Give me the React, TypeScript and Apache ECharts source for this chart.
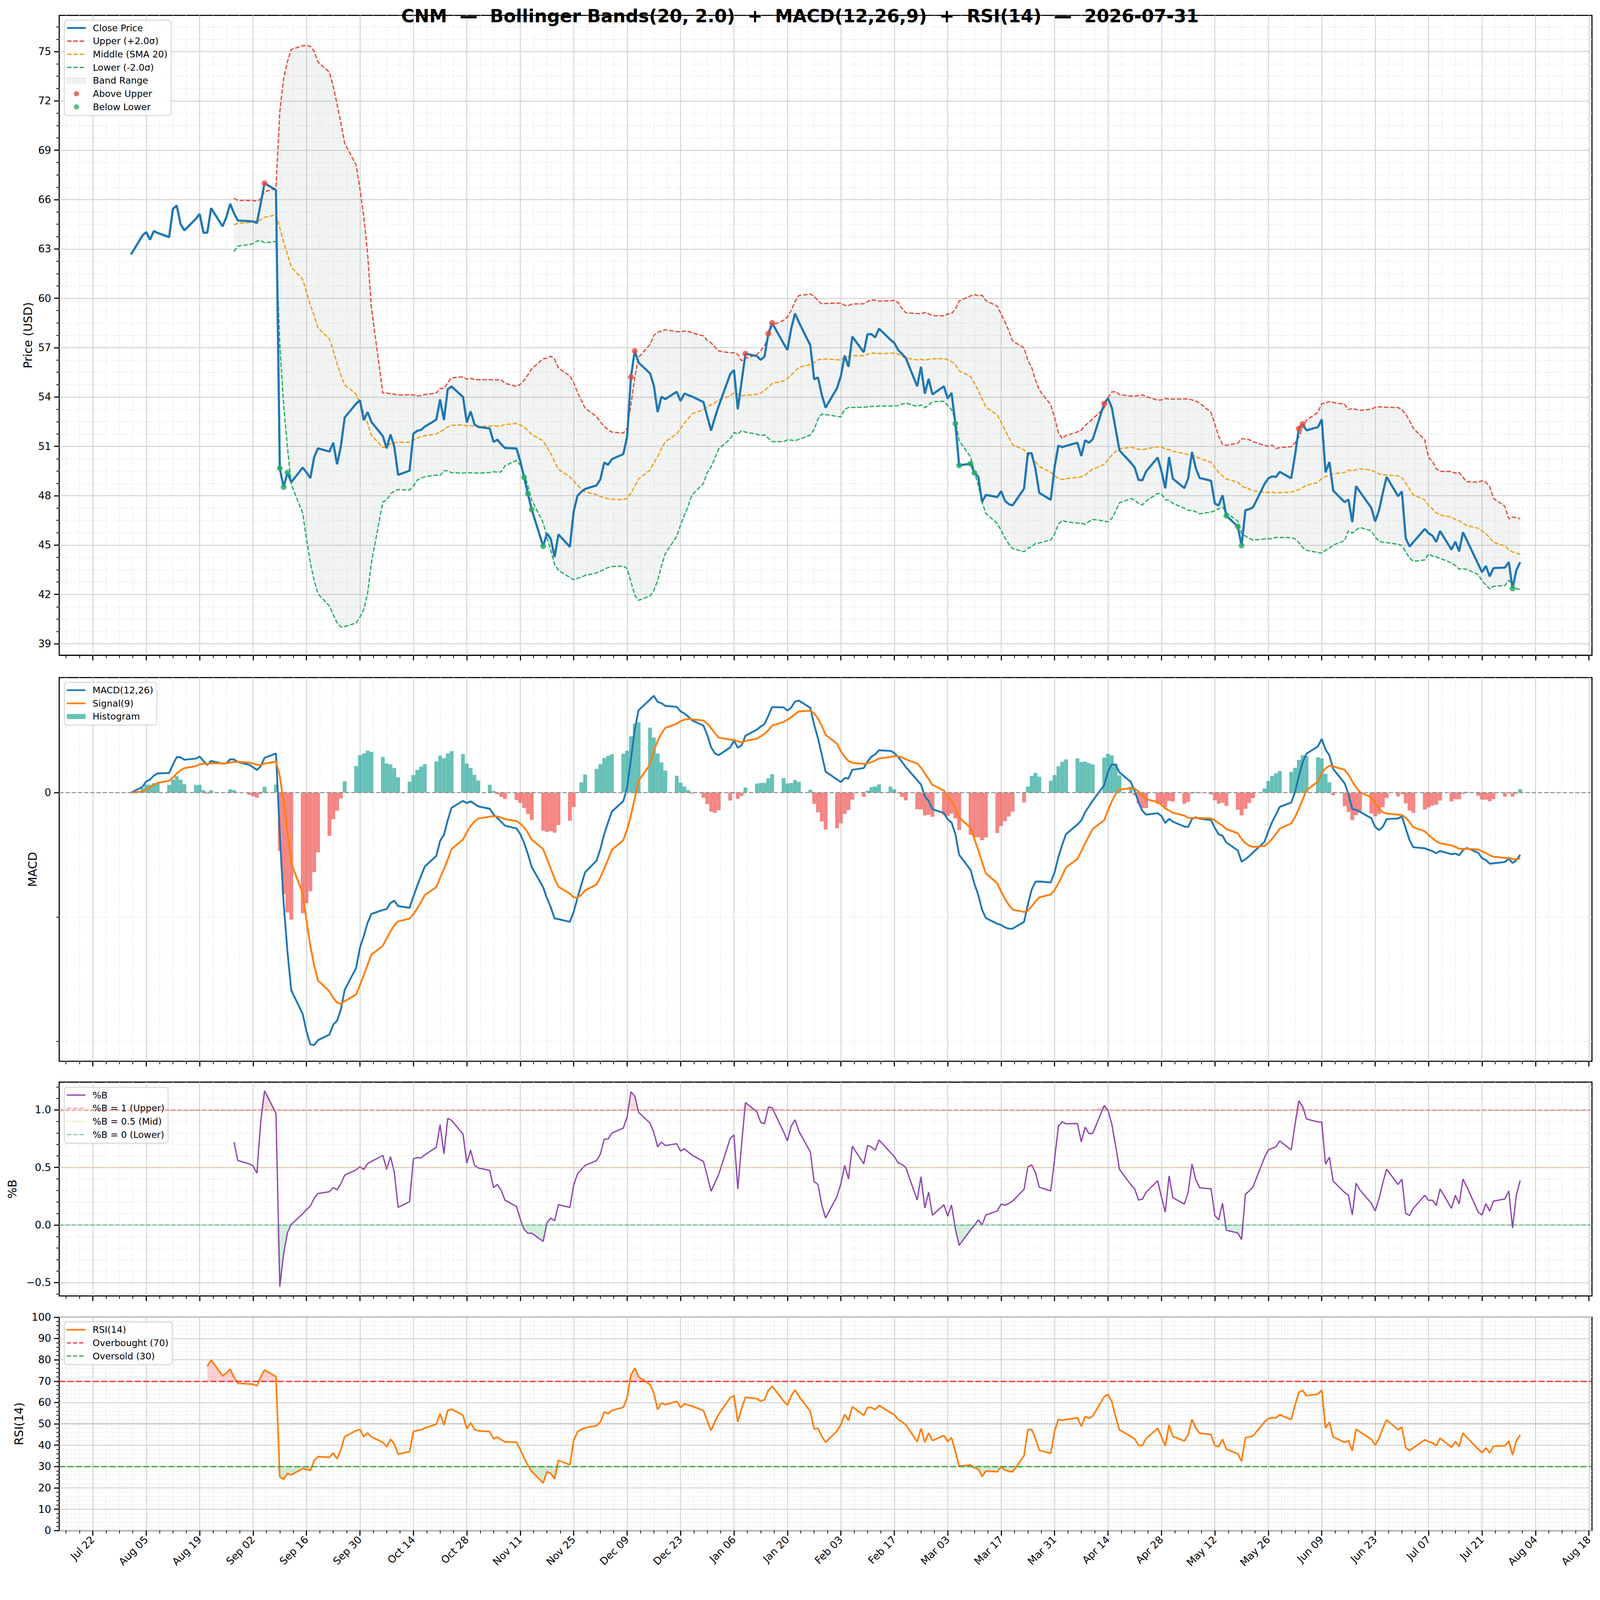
import React, { useEffect, useRef } from 'react'
import * as echarts from 'echarts'

// Daily closes (USD), one per business day, 2025-08-01 .. 2026-07-31
const CLOSE_2025_08 = [62.66, 63.81, 64.03, 63.56, 64.09, 63.97, 63.72, 65.44, 65.64, 64.51, 64.13, 64.83, 65.13, 63.99, 63.99, 65.48, 64.37, 64.93, 65.74, 65.17, 64.73]
const CLOSE_2025_09 = [64.69, 64.67, 64.57, 65.78, 66.99, 66.58, 49.67, 48.52, 49.41, 48.82, 49.71, 49.41, 49.07, 50.34, 50.88, 50.68, 51.22, 49.91, 51.0, 52.75, 53.6, 53.8]
const CLOSE_2025_10 = [52.59, 53.09, 52.49, 51.62, 50.88, 51.72, 50.98, 49.26, 49.52, 51.77, 51.94, 52.0, 52.2, 52.62, 53.85, 52.6, 54.47, 54.64, 54.0, 52.45, 53.13, 52.34, 52.18]
const CLOSE_2025_11 = [52.09, 51.27, 51.41, 51.13, 50.9, 50.87, 50.11, 49.11, 48.12, 47.16, 44.93, 45.71, 45.37, 44.27, 45.65, 44.89, 47.05, 47.99, 48.24, 48.41]
const CLOSE_2025_12 = [48.63, 49.0, 50.02, 49.88, 50.22, 50.53, 51.58, 55.21, 56.8, 56.09, 55.44, 54.7, 53.08, 54.02, 53.87, 54.32, 53.76, 54.21, 54.12, 54.03, 53.69, 52.82, 51.96]
const CLOSE_2026_01 = [52.75, 53.46, 55.38, 55.64, 53.26, 54.93, 56.63, 56.49, 56.26, 56.46, 57.85, 58.5, 57.25, 56.86, 58.16, 59.08, 58.55, 57.14, 55.08, 55.19, 54.14, 53.35]
const CLOSE_2026_02 = [54.54, 55.27, 56.52, 55.84, 57.67, 56.72, 57.82, 57.82, 57.62, 58.16, 57.48, 57.29, 56.86, 56.63, 56.38, 54.65, 55.84, 54.2, 55.1, 54.16]
const CLOSE_2026_03 = [54.65, 53.91, 54.25, 52.39, 49.84, 49.95, 49.39, 49.16, 47.63, 48.05, 47.92, 48.28, 47.69, 47.49, 47.41, 48.43, 50.58, 50.58, 49.61, 48.17, 47.75, 49.73]
const CLOSE_2026_04 = [51.05, 50.95, 51.03, 51.22, 50.41, 51.37, 51.22, 51.43, 53.6, 53.92, 53.35, 52.05, 50.75, 50.0, 49.71, 48.96, 48.94, 49.48, 50.32, 49.5, 48.45, 50.35]
const CLOSE_2026_05 = [49.03, 48.46, 49.05, 50.66, 49.67, 49.08, 48.91, 47.52, 47.41, 48.03, 46.78, 46.13, 44.97, 47.12, 47.18, 47.29, 48.71, 49.05, 49.17, 49.14, 49.45]
const CLOSE_2026_06 = [49.06, 50.47, 52.08, 52.36, 51.97, 52.17, 52.64, 49.42, 50.05, 48.31, 47.61, 47.77, 46.39, 48.58, 48.24, 47.26, 46.44, 47.1, 48.17, 49.14, 47.97, 48.26]
const CLOSE_2026_07 = [45.42, 44.91, 45.18, 45.98, 45.72, 45.57, 45.19, 45.85, 44.72, 45.21, 44.62, 45.78, 45.3, 43.84, 43.35, 43.73, 43.09, 43.6, 43.63, 43.97, 42.36, 43.48, 43.96]

// x tick labels, every 14 days starting Jul 22 2025
const X_TICK_LABELS = ['Jul 22', 'Aug 05', 'Aug 19', 'Sep 02', 'Sep 16', 'Sep 30', 'Oct 14', 'Oct 28', 'Nov 11', 'Nov 25', 'Dec 09', 'Dec 23', 'Jan 06', 'Jan 20', 'Feb 03', 'Feb 17', 'Mar 03', 'Mar 17', 'Mar 31', 'Apr 14', 'Apr 28', 'May 12', 'May 26', 'Jun 09', 'Jun 23', 'Jul 07', 'Jul 21', 'Aug 04', 'Aug 18']
const PRICE_TICKS = [39, 42, 45, 48, 51, 54, 57, 60, 63, 66, 69, 72, 75]
const MACD_TICKS = [0]
const MACD_MINOR_TICKS = [-4, -2]
const PB_TICKS = [-0.5, 0, 0.5, 1]
const RSI_TICKS = [0, 10, 20, 30, 40, 50, 60, 70, 80, 90, 100]

const TITLE = 'CNM  \u2014  Bollinger Bands(20, 2.0)  +  MACD(12,26,9)  +  RSI(14)  \u2014  2026-07-31'
const FONT = 'DejaVu Sans'
const W = 4378
const H = 4322
const DAY_MS = 86400000
const FIRST_DAY = Date.UTC(2025, 7, 1)
const X_FIRST_TICK = -10 // Jul 22 2025, in days from Aug 1 2025
const X_MIN = -18.8
const X_MAX = 382.8

const CLOSES = [
  CLOSE_2025_08, CLOSE_2025_09, CLOSE_2025_10, CLOSE_2025_11, CLOSE_2025_12, CLOSE_2026_01,
  CLOSE_2026_02, CLOSE_2026_03, CLOSE_2026_04, CLOSE_2026_05, CLOSE_2026_06, CLOSE_2026_07,
].flat()

// calendar-day offset of every business day, starting at Aug 1 2025
function businessDays(count: number): number[] {
  const out: number[] = []
  for (let off = 0; out.length < count; off++) {
    const wd = new Date(FIRST_DAY + off * DAY_MS).getUTCDay()
    if (wd !== 0 && wd !== 6) out.push(off)
  }
  return out
}

function ema(values: number[], span: number): number[] {
  const a = 2 / (span + 1)
  const out: number[] = []
  values.forEach((v, i) => out.push(i === 0 ? v : a * v + (1 - a) * out[i - 1]))
  return out
}

function bollinger(values: number[], n: number, k: number) {
  const mid: (number | null)[] = []
  const up: (number | null)[] = []
  const lo: (number | null)[] = []
  values.forEach((_, i) => {
    if (i < n - 1) {
      mid.push(null); up.push(null); lo.push(null)
      return
    }
    const win = values.slice(i - n + 1, i + 1)
    const m = win.reduce((s, v) => s + v, 0) / n
    const sd = Math.sqrt(win.reduce((s, v) => s + (v - m) ** 2, 0) / (n - 1))
    mid.push(m); up.push(m + k * sd); lo.push(m - k * sd)
  })
  return { mid, up, lo }
}

// Wilder-style smoothing (ewm alpha = 1/n)
function rsi(values: number[], n: number): (number | null)[] {
  const a = 1 / n
  let g = 0
  let l = 0
  const out: (number | null)[] = [null]
  for (let i = 1; i < values.length; i++) {
    const d = values[i] - values[i - 1]
    const gain = Math.max(d, 0)
    const loss = Math.max(-d, 0)
    if (i === 1) { g = gain; l = loss } else { g = a * gain + (1 - a) * g; l = a * loss + (1 - a) * l }
    out.push(i >= n ? (l === 0 ? 100 : 100 - 100 / (1 + g / l)) : null)
  }
  return out
}

function steps(from: number, to: number, step: number): number[] {
  const out: number[] = []
  for (let v = from; v <= to + 1e-9; v += step) out.push(Math.round(v * 1000) / 1000)
  return out
}
const without = (all: number[], major: number[]) => all.filter((v) => !major.some((m) => Math.abs(m - v) < 1e-6))

// legend icon: a horizontal (optionally dashed) bar inside a 51x14 box
function lineIcon(t: number, dash?: number[]): string {
  const iw = 51
  const ih = 14
  const y0 = (ih - t) / 2
  const y1 = (ih + t) / 2
  const parts = ['M0,0h0.01v0.01h-0.01Z', `M${iw - 0.01},${ih - 0.01}h0.01v0.01h-0.01Z`]
  if (!dash) parts.push(`M0,${y0}H${iw}V${y1}H0Z`)
  else {
    for (let x = 0; x < iw; x += dash[0] + dash[1]) {
      const e = Math.min(x + dash[0], iw)
      parts.push(`M${x},${y0}H${e}V${y1}H${x}Z`)
    }
  }
  return 'path://' + parts.join('')
}

const X = businessDays(CLOSES.length)
const X_MAJOR = X_TICK_LABELS.map((_, i) => X_FIRST_TICK + i * 14)
const X_MINOR = without(steps(X_FIRST_TICK - 7, X_MAX, 3.5), X_MAJOR)

const pts = (ys: (number | null)[]) => ys.map((y, i) => [X[i], y == null ? '-' : y])

const COLORS = {
  close: '#1f77b4', upper: '#e74c3c', middle: '#f39c12', lower: '#27ae60',
  band: 'rgba(149,165,166,0.12)', macd: '#1f77b4', signal: '#ff7f0e',
  histUp: 'rgba(38,166,154,0.7)', histDown: 'rgba(239,83,80,0.7)', pb: '#8e44ad', rsi: '#ff7f0e',
  pbUpper: 'rgba(231,76,60,0.7)', pbMid: 'rgba(243,156,18,0.6)', pbLower: 'rgba(39,174,96,0.7)',
  over: 'rgba(255,0,0,0.75)', under: 'rgba(44,160,44,0.85)',
}

function buildOption(S: number) {
  const p = (v: number) => v * S
  const dash = (a: number[]) => a.map(p)

  const bb = bollinger(CLOSES, 20, 2)
  const e26 = ema(CLOSES, 26)
  const macd = ema(CLOSES, 12).map((v, i) => v - e26[i])
  const signal = ema(macd, 9)
  const hist = macd.map((v, i) => v - signal[i])
  const rsiV = rsi(CLOSES, 14)
  const pb = CLOSES.map((c, i) => (bb.up[i] == null ? null : (c - (bb.lo[i] as number)) / ((bb.up[i] as number) - (bb.lo[i] as number))))

  const above = CLOSES.map((c, i) => [X[i], c, bb.up[i] != null && c > (bb.up[i] as number)]).filter((q) => q[2]).map((q) => [q[0], q[1]])
  const below = CLOSES.map((c, i) => [X[i], c, bb.lo[i] != null && c < (bb.lo[i] as number)]).filter((q) => q[2]).map((q) => [q[0], q[1]])

  const majorSplit = { show: true, lineStyle: { color: '#d2d2d2', width: p(2.5) } }
  const minorSplit = { show: true, lineStyle: { color: '#e2e2e2', width: p(2), type: dash([3, 5]) } }
  const tickStyle = (w: number) => ({ color: '#000', width: p(w) })
  const labelStyle = { fontSize: p(28), color: '#000', fontFamily: FONT }
  const noLine = { show: false, onZero: false }

  const xAxis: any[] = []
  const yAxis: any[] = []
  const yCfg = [
    { min: 38.3, max: 77.2, major: PRICE_TICKS, minor: without(steps(39, 77.2, 0.75), PRICE_TICKS), name: 'Price (USD)', gap: 70, majorLines: true, fmt: (v: number) => String(v) },
    { min: -4.32, max: 1.85, major: MACD_TICKS, minor: MACD_MINOR_TICKS, name: 'MACD', gap: 57, majorLines: false, fmt: (v: number) => String(v) },
    { min: -0.616, max: 1.241, major: PB_TICKS, minor: without(steps(-0.6, 1.2, 0.1), PB_TICKS), name: '%B', gap: 112, majorLines: true, fmt: (v: number) => (v < 0 ? '\u2212' + Math.abs(v).toFixed(1) : v.toFixed(1)) },
    { min: 0, max: 100, major: RSI_TICKS, minor: without(steps(0, 100, 2), RSI_TICKS), name: 'RSI(14)', gap: 94, majorLines: true, fmt: (v: number) => String(v) },
  ]
  yCfg.forEach((c, g) => {
    const xb = { type: 'value', gridIndex: g, min: X_MIN, max: X_MAX, position: 'bottom', axisLine: noLine }
    xAxis.push({
      ...xb,
      axisTick: { show: true, customValues: X_MAJOR, length: p(14), lineStyle: tickStyle(3) },
      axisLabel: {
        show: g === 3, customValues: X_MAJOR, rotate: 45, margin: p(20), ...labelStyle,
        formatter: (v: number) => X_TICK_LABELS[Math.round((v - X_FIRST_TICK) / 14)] ?? '',
      },
      splitLine: majorSplit,
    })
    xAxis.push({
      ...xb,
      axisTick: { show: true, customValues: X_MINOR, length: p(8), lineStyle: tickStyle(2) },
      axisLabel: { show: false },
      splitLine: minorSplit,
    })
    const yb = { type: 'value', gridIndex: g, min: c.min, max: c.max, position: 'left', axisLine: noLine }
    yAxis.push({
      ...yb,
      name: c.name, nameLocation: 'middle', nameGap: p(c.gap), nameRotate: 90,
      nameTextStyle: { fontSize: p(32), color: '#000', fontFamily: FONT },
      axisTick: { show: true, customValues: c.major, length: p(14), lineStyle: tickStyle(3) },
      axisLabel: { show: true, customValues: c.major, margin: p(22), ...labelStyle, formatter: c.fmt },
      splitLine: c.majorLines ? majorSplit : { show: false },
    })
    yAxis.push({
      ...yb,
      axisTick: { show: true, customValues: c.minor, length: p(8), lineStyle: tickStyle(2) },
      axisLabel: { show: false },
      splitLine: minorSplit,
    })
  })

  const ax = (g: number) => ({ xAxisIndex: 2 * g, yAxisIndex: 2 * g })
  const line = (name: string, g: number, data: any[], color: string, width: number, type: any = 'solid', extra: any = {}) => ({
    name, type: 'line', ...ax(g), data, symbol: 'none', showSymbol: false,
    lineStyle: { color, width: p(width), type: Array.isArray(type) ? dash(type) : type }, itemStyle: { color }, z: 3, ...extra,
  })
  // filled region between two curves, drawn as polygons through the axes' own scales
  const area = (name: string, g: number, top: (number | null)[], bottom: (number | null)[], color: string) => {
    const first = top.findIndex((v) => v != null)
    return {
      name, type: 'custom', ...ax(g), silent: true, z: 1, itemStyle: { color },
      data: [[X[first], top[first]]],
      renderItem: (_params: any, api: any) => {
        const runs: number[][] = []
        let cur: number[] = []
        top.forEach((t, i) => {
          if (t != null && bottom[i] != null) cur.push(i)
          else if (cur.length) { runs.push(cur); cur = [] }
        })
        if (cur.length) runs.push(cur)
        return {
          type: 'group',
          children: runs.map((run) => ({
            type: 'polygon',
            shape: {
              points: [
                ...run.map((i) => api.coord([X[i], top[i]])),
                ...run.slice().reverse().map((i) => api.coord([X[i], bottom[i]])),
              ],
            },
            style: { fill: color },
          })),
        }
      },
    }
  }
  const hline = (y: number, color: string, width: number, type: number[]) => ({ yAxis: y, lineStyle: { color, width: p(width), type: dash(type) } })
  const marks = (data: any[]) => ({ silent: true, symbol: ['none', 'none'], label: { show: false }, data })

  const series: any[] = [
    area('Band Range', 0, bb.up, bb.lo, COLORS.band),
    line('Upper (+2.0\u03c3)', 0, pts(bb.up), COLORS.upper, 3.5, [12, 5]),
    line('Middle (SMA 20)', 0, pts(bb.mid), COLORS.middle, 3.5, [12, 5]),
    line('Lower (-2.0\u03c3)', 0, pts(bb.lo), COLORS.lower, 3.5, [12, 5]),
    line('Close Price', 0, pts(CLOSES), COLORS.close, 6, 'solid', { z: 4 }),
    { name: 'Above Upper', type: 'scatter', ...ax(0), data: above, symbolSize: p(16), itemStyle: { color: COLORS.upper }, z: 5 },
    { name: 'Below Lower', type: 'scatter', ...ax(0), data: below, symbolSize: p(16), itemStyle: { color: COLORS.lower }, z: 5 },

    { name: 'Histogram', type: 'bar', ...ax(1), barGap: '-100%', barWidth: p(10.4), data: pts(hist.map((h) => (h >= 0 ? h : null))), itemStyle: { color: COLORS.histUp }, z: 2 },
    { name: '__histDown', type: 'bar', ...ax(1), barGap: '-100%', barWidth: p(10.4), data: pts(hist.map((h) => (h < 0 ? h : null))), itemStyle: { color: COLORS.histDown }, z: 2 },
    line('MACD(12,26)', 1, pts(macd), COLORS.macd, 5, 'solid', { markLine: marks([hline(0, '#8a8a8a', 2.5, [12, 5])]) }),
    line('Signal(9)', 1, pts(signal), COLORS.signal, 5),

    area('__pbHi', 2, pb.map((v) => (v == null ? null : Math.max(v, 1))), pb.map((v) => (v == null ? null : 1)), 'rgba(231,76,60,0.18)'),
    area('__pbLo', 2, pb.map((v) => (v == null ? null : 0)), pb.map((v) => (v == null ? null : Math.min(v, 0))), 'rgba(39,174,96,0.2)'),
    line('%B = 1 (Upper)', 2, [], COLORS.pbUpper, 2.5, [12, 5]),
    line('%B = 0.5 (Mid)', 2, [], COLORS.pbMid, 2.5, [3, 5]),
    line('%B = 0 (Lower)', 2, [], COLORS.pbLower, 2.5, [12, 5]),
    line('%B', 2, pts(pb), COLORS.pb, 3.5, 'solid', {
      z: 4,
      markLine: marks([
        hline(1, COLORS.pbUpper, 2.5, [12, 5]),
        hline(0.5, COLORS.pbMid, 2.5, [3, 5]),
        hline(0, COLORS.pbLower, 2.5, [12, 5]),
      ]),
    }),

    area('__rsiHi', 3, rsiV.map((v) => (v == null ? null : Math.max(v, 70))), rsiV.map((v) => (v == null ? null : 70)), 'rgba(255,0,0,0.18)'),
    area('__rsiLo', 3, rsiV.map((v) => (v == null ? null : 30)), rsiV.map((v) => (v == null ? null : Math.min(v, 30))), 'rgba(44,160,44,0.2)'),
    line('Overbought (70)', 3, [], COLORS.over, 3.5, [16, 7]),
    line('Oversold (30)', 3, [], COLORS.under, 3.5, [16, 7]),
    line('RSI(14)', 3, pts(rsiV), COLORS.rsi, 4.5, 'solid', {
      z: 4,
      markLine: marks([
        hline(70, COLORS.over, 3.5, [16, 7]),
        hline(30, COLORS.under, 3.5, [16, 7]),
        hline(50, '#999999', 2.5, [3, 4]),
      ]),
    }),
  ]

  const legendBase = {
    orient: 'vertical', left: p(176), backgroundColor: 'rgba(255,255,255,0.85)', borderColor: '#cccccc', borderWidth: p(2),
    borderRadius: p(8), padding: [9, 10, 11, 7].map(p), itemWidth: p(51), itemHeight: p(14), itemGap: p(11),
    itemStyle: { borderWidth: 0 },
    textStyle: { fontSize: p(25), fontFamily: FONT, color: '#000', lineHeight: p(25), padding: [0, 0, 0, p(14)] },
  }
  const li = (name: string, t: number, d?: number[]) => ({ name, icon: lineIcon(t, d) })

  return {
    animation: false,
    backgroundColor: '#ffffff',
    textStyle: { fontFamily: FONT },
    title: { text: TITLE, left: 'center', top: p(14), textStyle: { fontSize: p(49), fontWeight: 'bold', fontFamily: FONT, color: '#000' } },
    grid: [
      { top: 42, height: 1751 },
      { top: 1854, height: 1050 },
      { top: 2961, height: 585 },
      { top: 3604, height: 584 },
    ].map((g) => ({ top: p(g.top), height: p(g.height), left: p(162), right: p(22), show: true, borderColor: '#000', borderWidth: p(3), backgroundColor: 'transparent' })),
    legend: [
      {
        ...legendBase, top: p(55),
        data: [
          li('Close Price', 5), li('Upper (+2.0\u03c3)', 3.5, [12, 5]), li('Middle (SMA 20)', 3.5, [12, 5]), li('Lower (-2.0\u03c3)', 3.5, [12, 5]),
          { name: 'Band Range', icon: 'rect', itemStyle: { color: 'rgba(149,165,166,0.15)', borderColor: '#dddddd', borderWidth: p(1.5) } },
          'Above Upper', 'Below Lower',
        ],
      },
      { ...legendBase, top: p(1867), data: [li('MACD(12,26)', 4.5), li('Signal(9)', 4.5), { name: 'Histogram', icon: 'rect' }] },
      { ...legendBase, top: p(2975), data: [li('%B', 3.5), li('%B = 1 (Upper)', 2.5, [12, 5]), li('%B = 0.5 (Mid)', 2.5, [3, 4]), li('%B = 0 (Lower)', 2.5, [12, 5])] },
      { ...legendBase, top: p(3617), data: [li('RSI(14)', 4.5), li('Overbought (70)', 3.5, [11, 6]), li('Oversold (30)', 3.5, [11, 6])] },
    ],
    xAxis,
    yAxis,
    series,
  }
}

export default function App() {
  const ref = useRef<HTMLDivElement>(null)
  const S = Math.min(1, (window.innerWidth || W) / W, (window.innerHeight || H) / H)

  useEffect(() => {
    if (!ref.current) return
    const chart = echarts.init(ref.current, undefined, { renderer: 'svg' })
    chart.setOption(buildOption(S) as any)
    return () => chart.dispose()
  }, [S])

  return <div ref={ref} style={{ position: 'absolute', left: 0, top: 0, width: W * S, height: H * S, background: '#fff' }} />
}
